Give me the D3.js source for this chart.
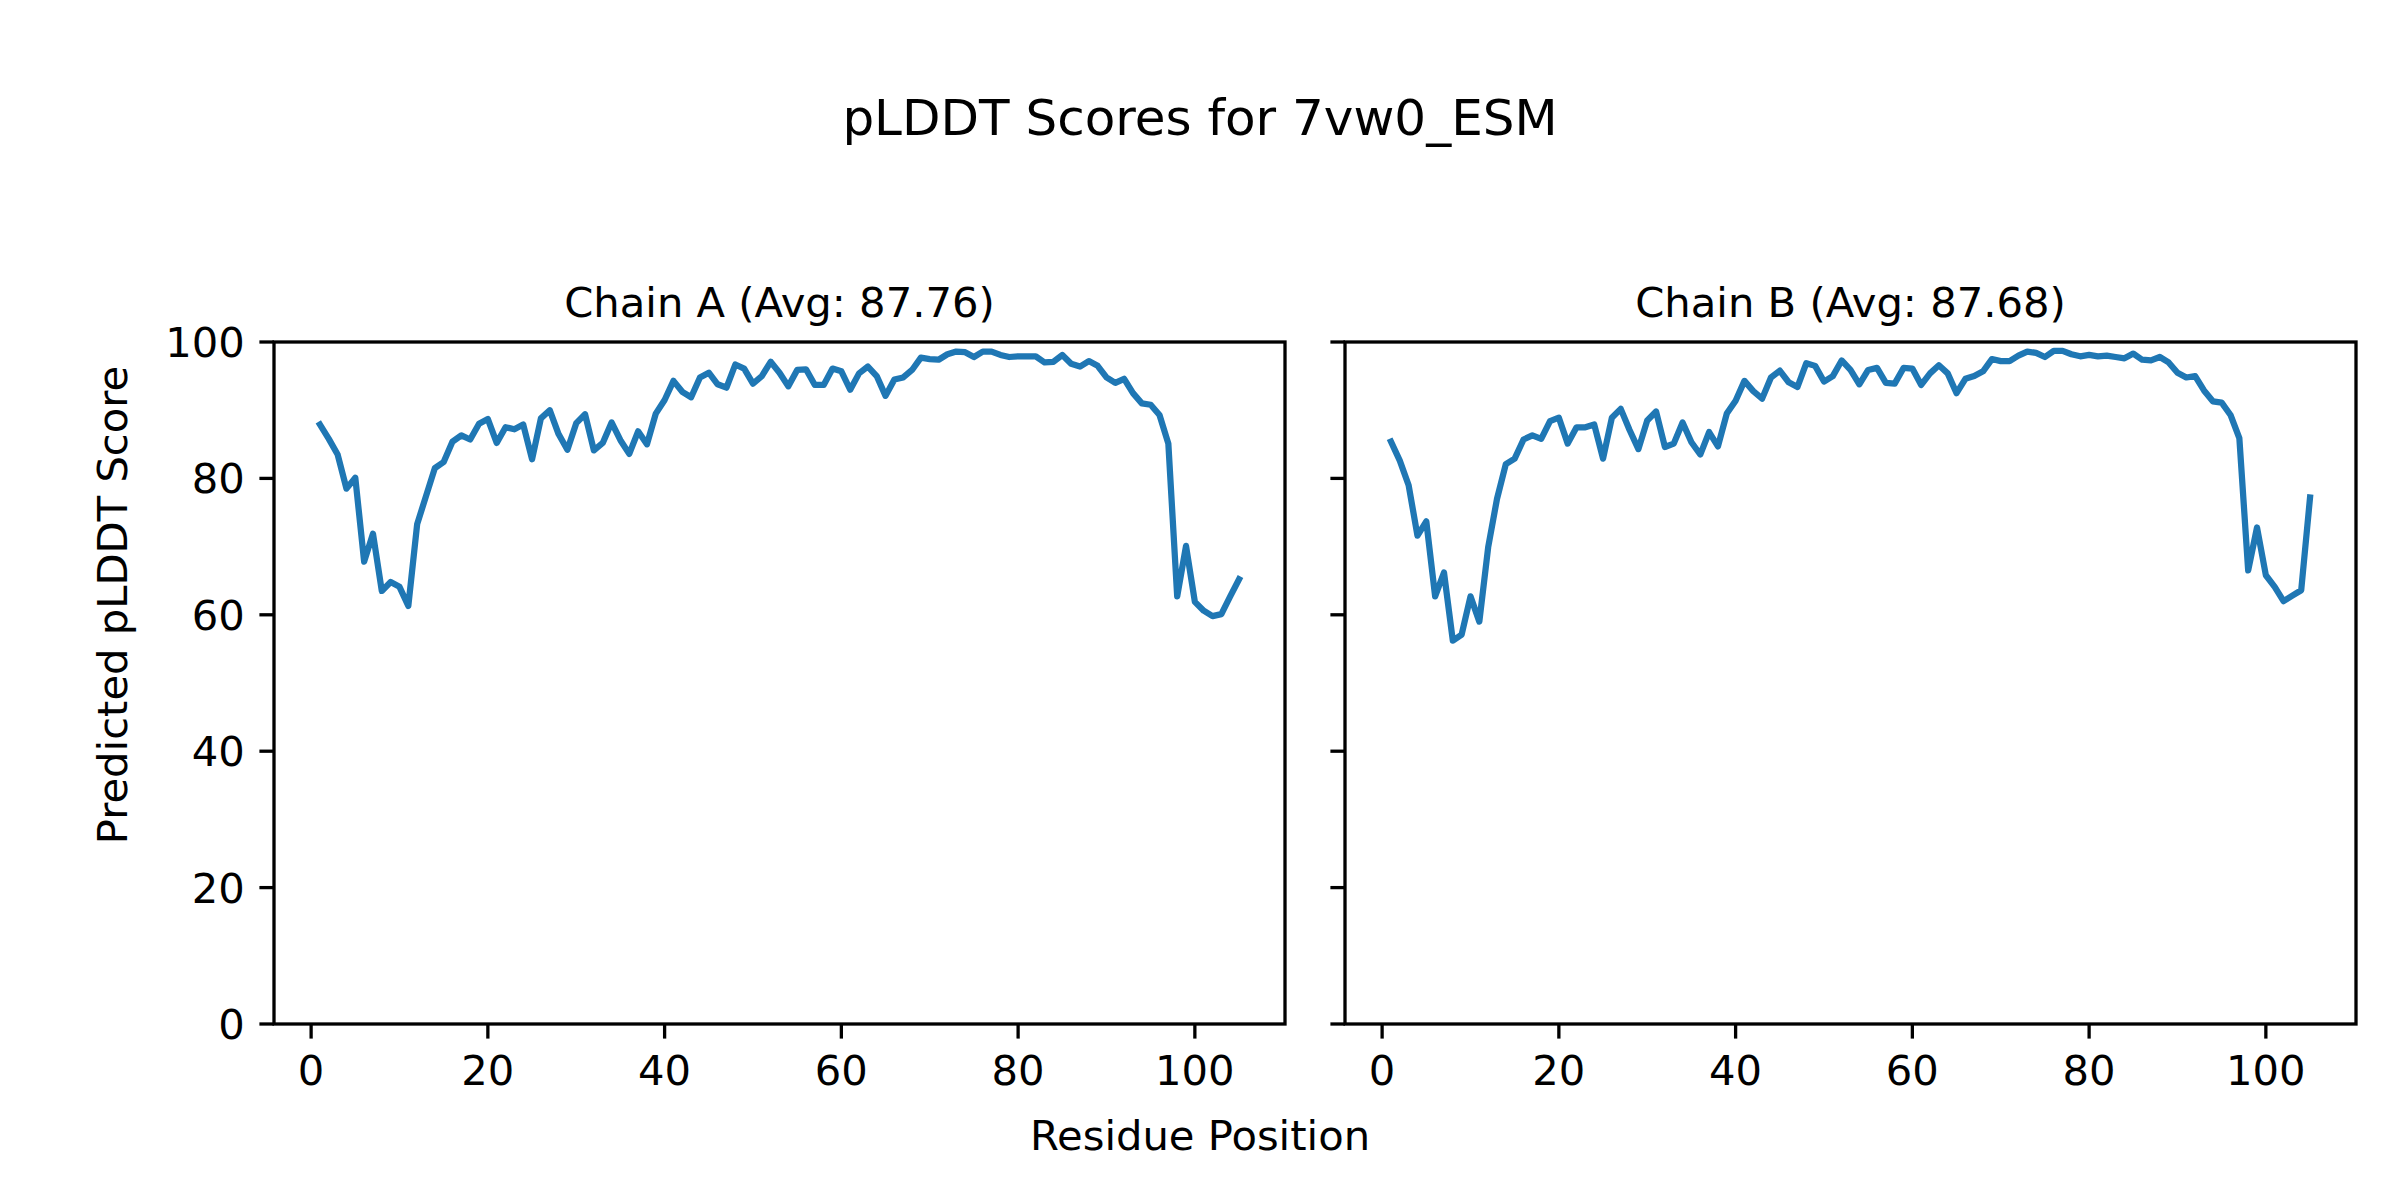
<!DOCTYPE html>
<html>
<head>
<meta charset="utf-8">
<script src="https://cdn.jsdelivr.net/npm/d3@7"></script>
<style>
  body { margin: 0; background: #fff; }
  svg text { font-family: "DejaVu Sans", sans-serif; fill: #000; }
</style>
</head>
<body>
<svg id="chart" width="2400" height="1200"></svg>
<script>
// pLDDT per residue
const chainA = [
    87.9, 85.8, 83.5, 78.5, 80.1, 67.8, 71.9, 63.5, 64.8, 64.1,
    61.3, 73.3, 77.4, 81.5, 82.4, 85.4, 86.3, 85.7, 88.0, 88.7,
    85.2, 87.5, 87.2, 87.9, 82.8, 88.8, 90.0, 86.5, 84.2, 88.1,
    89.4, 84.1, 85.2, 88.2, 85.6, 83.6, 86.9, 85.0, 89.5, 91.5,
    94.3, 92.7, 91.9, 94.8, 95.5, 93.8, 93.3, 96.7, 96.1, 93.9,
    95.0, 97.1, 95.5, 93.5, 95.9, 96.0, 93.7, 93.7, 96.1, 95.7,
    93.0, 95.4, 96.4, 95.0, 92.1, 94.5, 94.8, 95.9, 97.7, 97.5,
    97.4, 98.2, 98.6, 98.5, 97.8, 98.6, 98.6, 98.1, 97.8, 97.9,
    97.9, 97.9, 97.0, 97.1, 98.1, 96.8, 96.4, 97.2, 96.5, 94.8,
    94.0, 94.6, 92.5, 91.0, 90.8, 89.3, 85.1, 62.7, 70.1, 61.9,
    60.6, 59.8, 60.1, 62.7, 65.2
];
const chainB = [
    85.4, 82.6, 79.0, 71.6, 73.7, 62.7, 66.2, 56.2, 57.1, 62.7,
    59.0, 69.9, 77.0, 82.1, 82.9, 85.7, 86.3, 85.8, 88.4, 88.9,
    85.1, 87.5, 87.5, 87.9, 82.9, 88.9, 90.2, 87.1, 84.3, 88.5,
    89.8, 84.6, 85.1, 88.2, 85.3, 83.5, 86.8, 84.7, 89.5, 91.4,
    94.3, 92.8, 91.7, 94.8, 95.8, 94.1, 93.4, 96.9, 96.5, 94.2,
    95.0, 97.3, 95.9, 93.8, 95.9, 96.2, 94.0, 93.9, 96.2, 96.1,
    93.7, 95.4, 96.6, 95.4, 92.5, 94.6, 95.0, 95.7, 97.5, 97.2,
    97.2, 98.0, 98.6, 98.4, 97.8, 98.7, 98.7, 98.2, 97.9, 98.1,
    97.9, 98.0, 97.8, 97.6, 98.3, 97.4, 97.3, 97.8, 97.0, 95.5,
    94.8, 95.0, 92.9, 91.3, 91.1, 89.3, 85.9, 66.5, 72.8, 65.8,
    64.1, 62.0, 62.8, 63.6, 77.2
];
const chainTitles = ["Chain A (Avg: 87.76)", "Chain B (Avg: 87.68)"];
const xTicks = [0, 20, 40, 60, 80, 100];
const yTicks = [0, 20, 40, 60, 80, 100];

const svg = d3.select("#chart");

const panels = [
    { values: chainA, title: chainTitles[0], left: 274, right: 1285, showY: true },
    { values: chainB, title: chainTitles[1], left: 1345, right: 2356, showY: false }
];
const plotTop = 342, plotBottom = 1024;
const tickLen = 14.6, tickPad = 14.6, fs = 41.7;

// x limits like matplotlib autoscale with 5% margins around 1..105
const n = chainA.length;
const pad = (n - 1) * 0.05;

panels.forEach(p => {
    const x = d3.scaleLinear().domain([1 - pad, n + pad]).range([p.left, p.right]);
    const y = d3.scaleLinear().domain([0, 100]).range([plotBottom, plotTop]);
    const g = svg.append("g");

    g.append("path")
        .datum(p.values)
        .attr("fill", "none")
        .attr("stroke", "#1f77b4")
        .attr("stroke-width", 6.25)
        .attr("stroke-linejoin", "round")
        .attr("stroke-linecap", "square")
        .attr("d", d3.line().x((d, i) => x(i + 1)).y(d => y(d)));

    // frame
    g.append("rect")
        .attr("x", p.left).attr("y", plotTop)
        .attr("width", p.right - p.left).attr("height", plotBottom - plotTop)
        .attr("fill", "none").attr("stroke", "#000").attr("stroke-width", 3.3);

    // x ticks
    const xt = g.selectAll(".xt").data(xTicks).join("g").attr("class", "xt");
    xt.append("line")
        .attr("x1", d => x(d)).attr("x2", d => x(d))
        .attr("y1", plotBottom).attr("y2", plotBottom + tickLen)
        .attr("stroke", "#000").attr("stroke-width", 3.3);
    xt.append("text")
        .attr("x", d => x(d)).attr("y", plotBottom + tickLen + tickPad)
        .attr("dy", "0.76em")
        .attr("text-anchor", "middle")
        .attr("font-size", fs)
        .text(d => d);

    // y ticks
    const yt = g.selectAll(".yt").data(yTicks).join("g").attr("class", "yt");
    yt.append("line")
        .attr("x1", p.left - tickLen).attr("x2", p.left)
        .attr("y1", d => y(d)).attr("y2", d => y(d))
        .attr("stroke", "#000").attr("stroke-width", 3.3);
    if (p.showY) {
        yt.append("text")
            .attr("x", p.left - tickLen - tickPad).attr("y", d => y(d))
            .attr("dy", "0.36em")
            .attr("text-anchor", "end")
            .attr("font-size", fs)
            .text(d => d);
    }

    g.append("text")
        .attr("x", (p.left + p.right) / 2).attr("y", 317)
        .attr("text-anchor", "middle")
        .attr("font-size", fs)
        .text(p.title);
});

svg.append("text")
    .attr("x", 1200).attr("y", 135)
    .attr("text-anchor", "middle")
    .attr("font-size", 50)
    .text("pLDDT Scores for 7vw0_ESM");

svg.append("text")
    .attr("x", 1200).attr("y", 1150)
    .attr("text-anchor", "middle")
    .attr("font-size", fs)
    .text("Residue Position");

svg.append("text")
    .attr("transform", "translate(127,605) rotate(-90)")
    .attr("text-anchor", "middle")
    .attr("font-size", fs)
    .text("Predicted pLDDT Score");
</script>
</body>
</html>
